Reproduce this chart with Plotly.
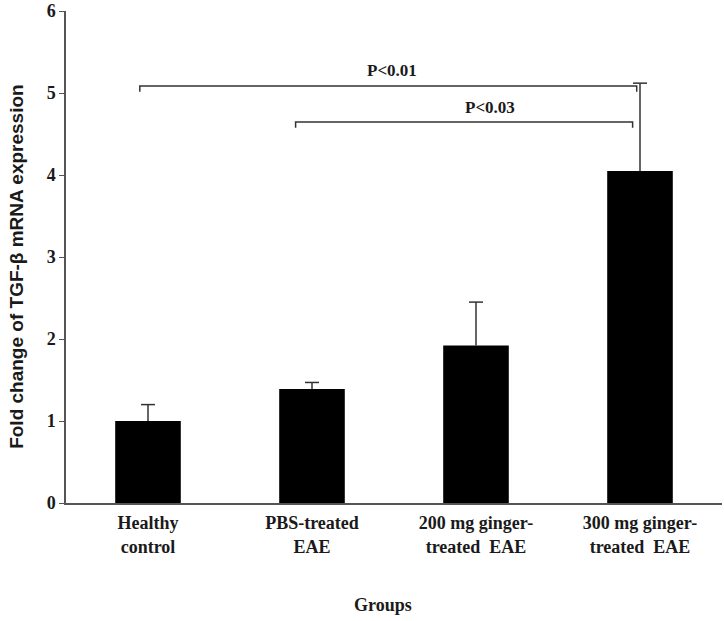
import plotly.graph_objects as go

groups = [
    "Healthy<br>control",
    "PBS-treated<br>EAE",
    "200 mg ginger-<br>treated  EAE",
    "300 mg ginger-<br>treated  EAE",
]
fold_change = [1.0, 1.39, 1.92, 4.05]
error_up = [0.2, 0.08, 0.53, 1.07]
y_ticks = [0, 1, 2, 3, 4, 5, 6]

SERIF = "Liberation Serif, Times New Roman, serif"
SANS = "Liberation Sans, Arial, sans-serif"
AXIS_COLOR = "#555555"
ERR_COLOR = "#333333"
TEXT_COLOR = "#1a1a1a"

xs = list(range(len(groups)))

fig = go.Figure()
fig.add_trace(
    go.Bar(
        x=xs,
        y=fold_change,
        marker=dict(color="black", line=dict(width=0)),
        error_y=dict(
            type="data",
            symmetric=False,
            array=error_up,
            arrayminus=[0] * len(error_up),
            color=ERR_COLOR,
            thickness=1.5,
            width=0,
        ),
        width=0.4,
    )
)
# caps only on the upper end of the error bars
fig.add_trace(
    go.Scatter(
        x=xs,
        y=[v + e for v, e in zip(fold_change, error_up)],
        mode="markers",
        marker=dict(symbol="line-ew", size=10, line=dict(color=ERR_COLOR, width=1.5)),
        hoverinfo="skip",
    )
)

# significance brackets (x in category units, y in data units)
brackets = [
    dict(x0=-0.05, x1=2.98, y=5.085, label="P<0.01", lx=1.49, ly=5.28),
    dict(x0=0.9, x1=2.955, y=4.645, label="P<0.03", lx=2.085, ly=4.82),
]
for b in brackets:
    fig.add_shape(
        type="path",
        path=f"M {b['x0']},{b['y'] - 0.07} L {b['x0']},{b['y']} L {b['x1']},{b['y']} L {b['x1']},{b['y'] - 0.07}",
        line=dict(color=ERR_COLOR, width=1.5),
        xref="x",
        yref="y",
    )
    fig.add_annotation(
        x=b["lx"], y=b["ly"], text=f"<b>{b['label']}</b>", showarrow=False,
        xanchor="center", yanchor="middle",
        font=dict(family=SERIF, size=17, color=TEXT_COLOR),
    )

fig.add_annotation(
    x=-0.0747, y=0.482, xref="paper", yref="paper", textangle=-90,
    xanchor="center", yanchor="middle",
    text="<b>Fold change of TGF-β mRNA expression</b>", showarrow=False,
    font=dict(family=SANS, size=19, color=TEXT_COLOR),
)
fig.add_annotation(
    x=0.483, y=-0.207, xref="paper", yref="paper",
    xanchor="center", yanchor="middle",
    text="<b>Groups</b>", showarrow=False,
    font=dict(family=SERIF, size=18, color=TEXT_COLOR),
)

fig.update_xaxes(
    range=[-0.5, 3.5],
    tickmode="array",
    tickvals=xs,
    ticktext=[f"<b>{g}</b>" for g in groups],
    tickfont=dict(family=SERIF, size=18, color=TEXT_COLOR),
    showline=True,
    linecolor=AXIS_COLOR,
    linewidth=1.5,
    ticks="",
    ticklabelstandoff=3,
    showgrid=False,
    zeroline=False,
)
fig.update_yaxes(
    range=[0, 6],
    tickmode="array",
    tickvals=y_ticks,
    ticktext=[f"<b>{t}</b>" for t in y_ticks],
    tickfont=dict(family=SERIF, size=18, color=TEXT_COLOR),
    showline=True,
    linecolor=AXIS_COLOR,
    linewidth=1.5,
    ticks="outside",
    ticklen=5,
    tickcolor=AXIS_COLOR,
    showgrid=False,
    zeroline=False,
)
fig.update_layout(
    width=724,
    height=621,
    margin=dict(l=66, r=2, t=11, b=118),
    plot_bgcolor="white",
    paper_bgcolor="white",
    showlegend=False,
)
# drop the default 8px body margin so the figure fills the window
fig.write_html(
    "out.html",
    config={"displayModeBar": False},
    post_script="document.body.style.margin = '0';",
)
